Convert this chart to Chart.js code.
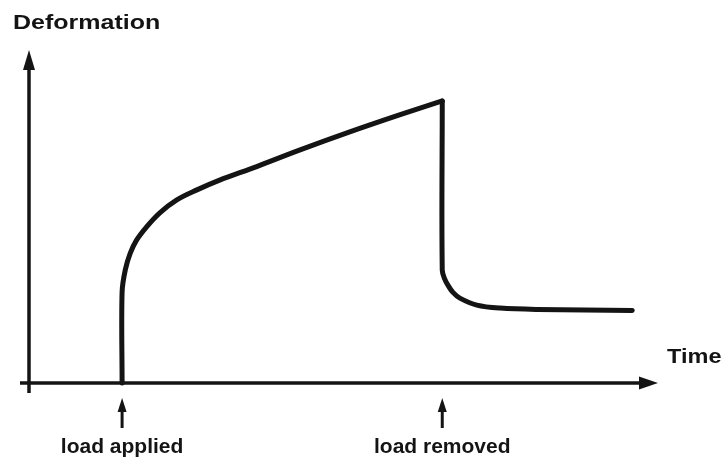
<!DOCTYPE html>
<html>
<head>
<meta charset="utf-8">
<script src="https://cdn.jsdelivr.net/npm/chart.js@4/dist/chart.umd.min.js"></script>
<style>
  html, body { margin: 0; padding: 0; background: #ffffff; }
  #wrap { width: 724px; height: 457px; position: relative; }
</style>
</head>
<body>
<div id="wrap"><canvas id="chart"></canvas></div>
<script>
// Creep and recovery: deformation over time, load applied then removed.
// Loading branch: instant elastic jump, then creep up to the moment of unloading.
const loadingTime = [
  14.8, 14.8, 15.3, 16.1, 17.1, 18.7, 20.8, 23.5, 26.7, 30.4, 34.0, 36.2,
  43.1, 51.0, 58.9, 65.7
];
const loadingDeformation = [
  0, 27.3, 33.9, 39.0, 42.9, 46.9, 51.1, 55.0, 58.0, 61.0, 63.5, 65.0,
  70.0, 75.4, 80.5, 84.7
];
// Unloading branch: elastic drop, delayed recovery, permanent set.
const unloadingTime = [65.7, 65.7, 66.1, 66.6, 67.4, 68.5, 71.2, 74.9, 80.8, 95.9];
const unloadingDeformation = [84.7, 33.9, 31.2, 29.4, 27.2, 25.5, 23.4, 22.5, 22.1, 21.8];

const eventTimes = [14.8, 65.7];
const eventLabels = ['load applied', 'load removed'];
const yAxisTitle = 'Deformation';
const xAxisTitle = 'Time';

const toPoints = (ts, ds) => ts.map((t, i) => ({ x: t, y: ds[i] }));

const INK = '#141414';
const FONT = '"Liberation Sans", Arial, Helvetica, sans-serif';

function drawText(ctx, text, x, y, size, align, scaleX) {
  ctx.save();
  ctx.font = 'bold ' + size + 'px ' + FONT;
  ctx.fillStyle = INK;
  ctx.textBaseline = 'alphabetic';
  const w = ctx.measureText(text).width * scaleX;
  let left = x;
  if (align === 'center') left = x - w / 2;
  ctx.translate(left, y);
  ctx.scale(scaleX, 1);
  ctx.textAlign = 'left';
  ctx.fillText(text, 0, 0);
  ctx.restore();
}

function arrowHead(ctx, tipX, tipY, dir, len, half) {
  ctx.beginPath();
  if (dir === 'up') {
    ctx.moveTo(tipX, tipY);
    ctx.lineTo(tipX - half, tipY + len);
    ctx.lineTo(tipX + half, tipY + len);
  } else {
    ctx.moveTo(tipX, tipY);
    ctx.lineTo(tipX - len, tipY - half);
    ctx.lineTo(tipX - len, tipY + half);
  }
  ctx.closePath();
  ctx.fill();
}

const axesPlugin = {
  id: 'arrowAxes',
  beforeDatasetsDraw(chart) {
    const { ctx, scales: { x, y } } = chart;
    const x0 = x.getPixelForValue(0);
    const y0 = y.getPixelForValue(0);
    const xEnd = x.getPixelForValue(x.max);
    const yTop = y.getPixelForValue(y.max);
    ctx.save();
    ctx.strokeStyle = INK;
    ctx.fillStyle = INK;
    ctx.lineWidth = 3.5;
    ctx.lineCap = 'butt';
    // vertical axis
    ctx.beginPath();
    ctx.moveTo(x0, y0 + 10);
    ctx.lineTo(x0, yTop + 16);
    ctx.stroke();
    arrowHead(ctx, x0, yTop, 'up', 20, 6);
    // horizontal axis
    ctx.beginPath();
    ctx.moveTo(x0 - 9, y0);
    ctx.lineTo(xEnd - 14, y0);
    ctx.stroke();
    arrowHead(ctx, xEnd, y0, 'right', 19, 6.5);
    ctx.restore();
  },
  afterDraw(chart) {
    const { ctx, scales: { x, y } } = chart;
    const y0 = y.getPixelForValue(0);
    ctx.save();
    ctx.strokeStyle = INK;
    ctx.fillStyle = INK;
    // event markers below the time axis
    eventTimes.forEach((t, i) => {
      const px = x.getPixelForValue(t);
      ctx.lineWidth = 3;
      ctx.beginPath();
      ctx.moveTo(px, y0 + 45);
      ctx.lineTo(px, y0 + 25);
      ctx.stroke();
      arrowHead(ctx, px, y0 + 15, 'up', 14, 4.5);
      drawText(ctx, eventLabels[i], px, y0 + 70, 21, 'center', 1);
    });
    ctx.restore();
    drawText(ctx, yAxisTitle, 13, 29, 21, 'left', 1.19);
    drawText(ctx, xAxisTitle, 667, 363, 21, 'left', 1.12);
  }
};

const lineStyle = {
  borderColor: INK,
  borderWidth: 5,
  borderJoinStyle: 'round',
  borderCapStyle: 'round',
  pointRadius: 0,
  tension: 0.35,
  fill: false,
  clip: false
};

new Chart(document.getElementById('chart'), {
  type: 'line',
  data: {
    datasets: [
      Object.assign({ label: 'loading', data: toPoints(loadingTime, loadingDeformation) }, lineStyle),
      Object.assign({ label: 'unloading', data: toPoints(unloadingTime, unloadingDeformation) }, lineStyle)
    ]
  },
  options: {
    responsive: true,
    maintainAspectRatio: false,
    animation: false,
    devicePixelRatio: 1,
    layout: { padding: { left: 29, right: 66, top: 50, bottom: 74 } },
    plugins: { legend: { display: false }, tooltip: { enabled: false } },
    scales: {
      x: { type: 'linear', min: 0, max: 100, display: false },
      y: { type: 'linear', min: 0, max: 100, display: false }
    }
  },
  plugins: [axesPlugin]
});
</script>
</body>
</html>
